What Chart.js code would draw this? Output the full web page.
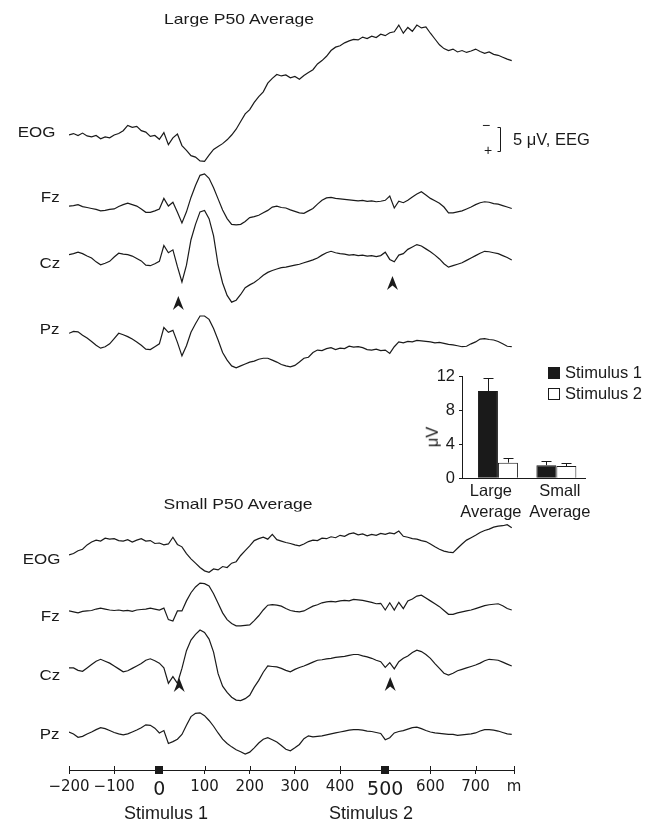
<!DOCTYPE html>
<html><head><meta charset="utf-8">
<script src="https://cdn.jsdelivr.net/npm/chart.js@4/dist/chart.umd.min.js"></script>
<style>
html,body{margin:0;padding:0;background:#fff;}
#wrap{position:relative;width:654px;height:821px;overflow:hidden;font-family:"Liberation Sans",Arial,Helvetica,sans-serif;color:#1a1a1a;}
canvas{position:absolute;}
.t{position:absolute;white-space:nowrap;font-size:16px;line-height:1;}
.c{transform:translate(-50%,-50%);}
.hd{font-size:15px;transform:translate(-50%,-50%) scaleX(1.17);}
.rl{font-size:15px;transform:translateY(-50%) scaleX(1.13);transform-origin:right center;text-align:right;}
.l{transform:translateY(-50%);}
.sq{position:absolute;width:10px;height:10px;border:1px solid #1a1a1a;}
</style></head><body>
<div id="wrap">
<canvas id="main" width="654" height="821" style="left:0;top:0"></canvas>
<canvas id="inset" width="254" height="200" style="left:400px;top:330px"></canvas>

<div class="t hd" style="left:239px;top:18px">Large P50 Average</div>
<div class="t hd" style="left:238px;top:503px">Small P50 Average</div>

<div class="t rl" style="right:599px;top:131px">EOG</div>
<div class="t rl" style="right:594px;top:196px">Fz</div>
<div class="t rl" style="right:594px;top:262px">Cz</div>
<div class="t rl" style="right:594px;top:328px">Pz</div>
<div class="t rl" style="right:594px;top:558px">EOG</div>
<div class="t rl" style="right:594px;top:615px">Fz</div>
<div class="t rl" style="right:594px;top:674px">Cz</div>
<div class="t rl" style="right:594px;top:733px">Pz</div>

<div class="t c" style="left:486px;top:125px;font-size:14px">−</div>
<div class="t c" style="left:488px;top:150px;font-size:14px">+</div>
<div class="t l" style="left:513px;top:139px;font-size:16.5px">5 μV, EEG</div>

<div class="t c" style="left:166px;top:813px;font-size:18px">Stimulus 1</div>
<div class="t c" style="left:371px;top:813px;font-size:18px">Stimulus 2</div>

<div class="sq" style="left:548px;top:367px;background:#1a1a1a"></div>
<div class="t l" style="left:565px;top:372px;font-size:16.5px">Stimulus 1</div>
<div class="sq" style="left:548px;top:388px;background:#fff"></div>
<div class="t l" style="left:565px;top:393px;font-size:16.5px">Stimulus 2</div>
<div class="t c" style="left:432px;top:437px;font-size:16.5px;transform:translate(-50%,-50%) rotate(-90deg)">μV</div>
</div>

<script>
// ---------- DATA ----------
const times = [-200,-190,-180,-170,-160,-150,-140,-130,-120,-110,
 -100,-90,-80,-70,-60,-50,-40,-30,-20,-10,
 0,10,20,30,40,50,60,70,80,90,
 100,110,120,130,140,150,160,170,180,190,
 200,210,220,230,240,250,260,270,280,290,
 300,310,320,330,340,350,360,370,380,390,
 400,410,420,430,440,450,460,470,480,490,
 500,510,520,530,540,550,560,570,580,590,
 600,610,620,630,640,650,660,670,680,690,
 700,710,720,730,740,750,760,770,780];

// Large P50 average (µV, negative up)
const largeEOG = [0.0,-0.3,0.1,-0.4,0.2,0.4,0.1,0.8,0.4,0.6,
 0.0,-0.3,-0.9,-2.0,-1.6,-1.8,-0.9,-0.6,0.3,0.1,
 0.9,-0.5,2.0,0.6,-0.2,2.2,3.2,4.3,4.6,5.4,
 5.5,4.2,3.0,2.4,1.8,1.0,0.0,-1.2,-2.8,-4.4,
 -5.3,-6.8,-8.0,-9.0,-10.8,-11.8,-12.6,-12.3,-12.5,-11.9,
 -12.2,-11.6,-12.4,-13.0,-13.6,-14.8,-15.5,-16.4,-17.6,-18.3,
 -18.6,-19.2,-19.6,-19.9,-19.8,-20.4,-20.1,-20.6,-20.3,-21.0,
 -20.7,-21.3,-21.5,-22.9,-21.2,-22.4,-21.6,-22.9,-22.3,-22.5,
 -21.2,-20.0,-18.8,-18.0,-17.6,-17.9,-17.3,-17.6,-17.2,-17.5,
 -17.9,-17.4,-17.0,-17.3,-16.8,-16.6,-16.2,-15.8,-15.5];
const largeFz = [-0.4,-0.5,-0.7,-0.3,-0.1,0.1,0.3,0.6,0.5,0.3,
 0.2,-0.3,-0.7,-1.0,-0.7,-0.4,0.2,0.9,0.9,0.6,
 0.2,-2.0,-0.4,-1.2,0.9,3.1,0.8,-2.2,-4.7,-6.8,
 -7.1,-6.2,-4.2,-1.9,0.4,2.2,3.4,3.5,3.4,2.8,
 2.0,1.8,1.5,1.0,0.5,-0.2,-0.4,-0.1,0.0,0.4,
 0.7,1.0,1.1,0.6,0.1,-0.8,-1.6,-2.1,-2.2,-2.0,
 -1.9,-1.8,-1.7,-1.6,-1.5,-1.6,-1.4,-1.5,-1.3,-1.4,
 -1.6,-2.5,0.0,-1.4,-1.1,-1.6,-2.3,-2.9,-3.4,-2.7,
 -2.0,-1.5,-1.0,-0.2,1.0,1.0,0.8,0.6,0.2,-0.2,
 -0.7,-1.1,-1.3,-1.2,-0.9,-0.8,-0.5,-0.2,0.1];
const largeCz = [-0.7,-0.9,-1.2,-0.9,-0.4,0.0,0.8,1.4,1.1,0.7,
 -0.2,-1.0,-0.8,-0.7,-0.4,0.1,0.6,1.5,1.6,1.2,
 0.7,-2.6,-1.1,-1.7,1.8,5.0,1.5,-3.8,-7.0,-9.6,
 -9.9,-8.2,-4.6,1.4,5.2,7.8,9.2,8.8,7.6,6.2,
 5.6,5.1,4.4,3.6,3.0,2.6,2.3,2.0,1.9,1.7,
 1.5,1.3,1.0,0.7,0.4,0.0,-0.6,-1.1,-1.4,-1.1,
 -0.9,-0.8,-0.6,-0.7,-0.5,-0.6,-0.4,-0.5,-0.3,-0.5,
 -1.2,0.3,0.8,-0.6,-0.9,-1.8,-2.3,-2.8,-2.5,-1.9,
 -1.3,-0.6,0.2,1.2,1.9,1.6,1.3,1.0,0.5,0.0,
 -0.5,-1.0,-1.4,-1.3,-1.1,-0.9,-0.5,-0.1,0.4];
const largePz = [-1.4,-1.8,-1.7,-1.0,-0.4,0.3,1.1,1.7,1.4,0.8,
 -0.3,-1.4,-1.1,-0.7,-0.2,0.4,1.1,1.9,2.0,1.4,
 0.8,-2.6,-1.6,-2.0,0.5,3.3,1.2,-1.6,-3.4,-5.0,
 -5.0,-4.3,-2.4,0.0,2.6,4.2,5.4,5.8,5.4,5.0,
 4.6,4.4,4.0,3.8,3.8,4.2,4.6,5.1,5.4,5.6,
 5.3,4.6,3.8,3.6,2.6,2.1,2.2,1.8,1.6,2.0,
 1.7,1.8,1.3,1.5,1.4,1.6,2.0,2.1,1.9,2.2,
 2.1,2.8,1.4,0.4,0.6,0.3,0.4,0.1,0.2,0.3,
 0.4,0.6,0.5,0.7,0.9,1.0,1.2,1.4,1.3,0.8,
 0.4,-0.2,-0.3,-0.1,0.0,0.3,0.8,1.3,1.4];

// Small P50 average (µV, negative up)
const smallEOG = [2.5,2.2,1.6,1.3,0.4,-0.2,-0.6,-0.4,-1.0,-0.8,
 -0.9,-0.5,-0.4,-0.7,-0.2,-0.6,-0.9,-0.4,-0.5,0.1,
 0.0,0.4,0.2,-1.2,0.3,0.8,2.2,3.3,4.2,5.1,
 5.8,6.1,5.4,5.6,4.9,5.1,4.2,3.9,2.6,1.6,
 0.6,-0.5,-0.9,-1.2,-0.8,-1.8,-0.7,-0.4,-0.1,0.1,
 0.4,0.6,0.2,-0.3,-0.6,-0.5,-1.0,-0.9,-1.3,-1.1,
 -1.6,-1.4,-1.9,-2.1,-1.7,-1.9,-1.5,-1.8,-1.6,-2.0,
 -1.8,-2.1,-1.9,-2.5,-1.4,-1.2,-0.9,-0.8,-0.5,-0.3,
 0.2,0.8,1.3,1.7,1.9,2.0,1.1,0.2,-0.6,-1.1,
 -1.6,-2.2,-2.6,-2.9,-3.3,-3.5,-3.6,-3.8,-3.2];
const smallFz = [0.2,0.4,0.6,0.3,0.2,0.1,-0.2,-0.4,-0.2,0.0,
 0.1,0.0,0.2,0.1,0.3,0.0,-0.1,-0.2,-0.4,-0.2,
 0.0,-0.4,2.0,2.3,0.2,0.2,-1.9,-3.6,-4.8,-5.6,
 -5.5,-5.0,-3.4,-1.4,0.6,2.0,2.8,3.3,3.3,3.2,
 3.1,2.2,1.2,0.0,-1.0,-1.1,-1.0,-0.8,-0.3,0.1,
 0.3,0.4,0.2,-0.3,-0.8,-1.1,-1.5,-1.7,-1.8,-1.7,
 -1.9,-2.0,-1.9,-2.2,-2.1,-2.0,-1.8,-1.6,-1.3,-1.4,
 0.0,-1.5,0.0,-1.6,-0.3,-1.9,-2.3,-2.9,-3.1,-2.5,
 -1.9,-1.3,-0.7,0.1,0.9,0.9,0.6,0.4,0.2,0.0,
 -0.3,-0.6,-0.9,-1.1,-1.2,-1.3,-0.9,-0.3,0.0];
const smallCz = [0.4,0.4,0.9,1.1,0.4,-0.3,-1.0,-1.4,-1.0,-0.6,
 0.0,0.6,1.2,1.0,0.5,0.0,-0.5,-1.2,-1.5,-1.1,
 -0.6,0.4,3.6,2.2,3.6,0.5,-3.2,-5.4,-6.6,-7.5,
 -7.0,-5.6,-2.9,1.6,4.2,5.5,6.5,7.1,7.2,6.8,
 6.1,4.4,3.0,1.3,0.0,0.1,0.2,0.5,0.9,1.2,
 0.7,0.3,0.0,-0.4,-0.8,-1.2,-1.3,-1.5,-1.6,-1.8,
 -1.9,-2.0,-2.2,-2.4,-2.4,-2.1,-1.9,-1.6,-1.2,-0.9,
 0.3,-0.7,0.6,-0.9,-1.6,-2.1,-2.8,-3.3,-3.0,-2.4,
 -1.6,-0.5,0.5,1.5,1.9,1.5,1.0,0.7,0.4,0.1,
 -0.2,-0.6,-1.1,-1.4,-1.3,-1.2,-0.8,-0.4,0.0];
const smallPz = [0.0,0.4,1.1,0.9,0.4,0.0,-0.5,-0.9,-0.7,-0.3,
 0.1,0.4,0.6,0.4,0.0,-0.4,-0.9,-1.5,-1.4,-0.8,
 0.2,-0.3,2.4,2.0,1.5,0.5,-1.4,-3.2,-3.9,-4.0,
 -3.4,-2.4,-1.2,0.2,1.5,2.4,3.1,3.7,4.1,4.6,
 4.2,3.3,2.3,1.5,1.2,1.6,2.1,2.8,3.6,3.9,
 3.3,2.6,1.4,0.8,1.0,0.9,0.8,0.6,0.4,0.2,
 0.0,-0.2,-0.4,-0.5,-0.5,-0.4,-0.2,-0.1,0.1,0.3,
 1.6,1.2,0.2,-0.1,-0.3,-0.6,-0.9,-1.0,-0.7,-0.3,
 0.0,0.2,0.3,0.4,0.5,0.5,0.7,0.6,0.5,0.4,
 0.2,-0.2,-0.5,-0.5,-0.4,-0.2,0.1,0.4,0.5];

// x axis
const tickValues = [-200,-100,0,100,200,300,400,500,600,700,785];
const tickLabels = ['−200','−100','0','100','200','300','400','500','600','700','m'];
const stimTimes = [0, 500];
const arrowTimes = [42, 516, 44, 511];

// inset bar chart
const groupLabels = [['Large','Average'],['Small','Average']];
const groupPos = [0, 1];
const stim1Mean = [10.3, 1.55];
const stim1Err  = [1.6, 0.45];
const stim2Mean = [1.85, 1.45];
const stim2Err  = [0.5, 0.4];

// ---------- LAYOUT / STYLE ----------
const INK = '#1a1a1a';
const PX_PER_UV = 4.8;           // 5 µV = 24 px
const AXIS_Y = 770;              // pixel row of the time axis
const rows = [                   // baseline pixel row of each trace
  {data: largeEOG, base: 135},
  {data: largeFz,  base: 208},
  {data: largeCz,  base: 258},
  {data: largePz,  base: 340},
  {data: smallEOG, base: 543},
  {data: smallFz,  base: 610},
  {data: smallCz,  base: 666},
  {data: smallPz,  base: 732}
];
const arrowTops = [296, 276, 678, 677];
const groupLabelPos = [-0.12, 1.06];   // label anchors on the inset x scale

const datasets = rows.map(r => ({
  data: r.data.map((v, i) => ({x: times[i], y: r.base / PX_PER_UV + v})),
  borderColor: INK, borderWidth: 1.2, pointRadius: 0, tension: 0, fill: false
}));

const mainDecor = {
  id: 'mainDecor',
  afterDraw(chart) {
    const ctx = chart.ctx, xs = chart.scales.x, yb = chart.chartArea.bottom;
    ctx.save();
    ctx.strokeStyle = INK; ctx.fillStyle = INK; ctx.lineWidth = 1;
    tickValues.forEach(v => {
      if (stimTimes.includes(v)) return;
      const x = Math.round(xs.getPixelForValue(v)) + 0.5;
      ctx.beginPath(); ctx.moveTo(x, yb - 4); ctx.lineTo(x, yb); ctx.stroke();
    });
    stimTimes.forEach(v => {
      const x = xs.getPixelForValue(v);
      ctx.fillRect(Math.round(x) - 4, yb - 4, 8, 8);
    });
    arrowTimes.forEach((t, i) => {
      const x = xs.getPixelForValue(t), y = arrowTops[i];
      ctx.beginPath(); ctx.moveTo(x, y); ctx.lineTo(x + 5.5, y + 14);
      ctx.lineTo(x, y + 9.5); ctx.lineTo(x - 5.5, y + 14); ctx.closePath(); ctx.fill();
    });
    // 5 µV scale bracket
    ctx.beginPath();
    ctx.moveTo(497.5, 127.5); ctx.lineTo(500.5, 127.5); ctx.lineTo(500.5, 151.5); ctx.lineTo(497.5, 151.5);
    ctx.stroke();
    ctx.restore();
  }
};

new Chart(document.getElementById('main'), {
  type: 'line',
  data: {datasets},
  options: {
    responsive: false, animation: false, events: [],
    layout: {padding: {left: 69, right: 140, top: 0, bottom: 0}},
    plugins: {legend: {display: false}, tooltip: {enabled: false}},
    scales: {
      x: {
        type: 'linear', min: -200, max: 785,
        afterBuildTicks(s) { s.ticks = tickValues.map(v => ({value: v})); },
        afterFit(s) { s.height = 821 - AXIS_Y; },
        ticks: {
          autoSkip: false, maxRotation: 0, color: INK, padding: 4.5,
          callback: (v, i) => tickLabels[i],
          font: ctx => ({family: '"DejaVu Sans", sans-serif',
            size: (ctx.tick && stimTimes.includes(ctx.tick.value)) ? 19 : 15})
        },
        grid: {display: true, drawOnChartArea: false, drawTicks: true, tickLength: 4, color: INK},
        border: {display: true, color: INK, width: 1}
      },
      y: {display: false, reverse: true, min: 0, max: AXIS_Y / PX_PER_UV}
    }
  },
  plugins: [mainDecor]
});

const errorBars = {
  id: 'errorBars',
  afterDatasetsDraw(chart) {
    const ctx = chart.ctx, ys = chart.scales.y;
    const errs = [stim1Err, stim2Err], means = [stim1Mean, stim2Mean];
    ctx.save(); ctx.strokeStyle = INK; ctx.lineWidth = 1;
    [0, 1].forEach(d => {
      chart.getDatasetMeta(d).data.forEach((bar, i) => {
        const x = Math.round(bar.x) + 0.5;
        const y0 = ys.getPixelForValue(means[d][i]);
        const y1 = Math.round(ys.getPixelForValue(means[d][i] + errs[d][i])) + 0.5;
        ctx.beginPath(); ctx.moveTo(x, y0); ctx.lineTo(x, y1);
        ctx.moveTo(x - 5, y1); ctx.lineTo(x + 5, y1); ctx.stroke();
      });
    });
    ctx.restore();
  }
};

const insetFont = {family: '"Liberation Sans", Arial, sans-serif', size: 16.5};
new Chart(document.getElementById('inset'), {
  type: 'bar',
  data: {
    datasets: [
      {label: 'Stimulus 1', data: stim1Mean.map((v, i) => ({x: groupPos[i], y: v})),
       backgroundColor: INK, borderColor: INK, borderWidth: 1},
      {label: 'Stimulus 2', data: stim2Mean.map((v, i) => ({x: groupPos[i], y: v})),
       backgroundColor: '#ffffff', borderColor: INK, borderWidth: 1}
    ]
  },
  options: {
    responsive: false, animation: false, events: [],
    layout: {padding: {left: 0, right: 69, top: 46.7, bottom: 0}},
    plugins: {legend: {display: false}, tooltip: {enabled: false}},
    datasets: {bar: {categoryPercentage: 0.684, barPercentage: 1}},
    scales: {
      x: {
        type: 'linear', min: -0.615, max: 1.49, offset: false,
        afterBuildTicks(s) { s.ticks = groupLabelPos.map(v => ({value: v})); },
        grid: {display: false, offset: false}, border: {display: true, color: INK},
        ticks: {color: INK, padding: -5, maxRotation: 0, autoSkip: false,
          callback: (v, i) => groupLabels[i],
          font: Object.assign({lineHeight: 1.25}, insetFont)},
        afterFit(s) { s.height = 51.7; }
      },
      y: {
        min: 0, max: 12,
        ticks: {stepSize: 2, color: INK, padding: 4,
          callback: v => (v % 4 === 0 ? v : ''), font: insetFont},
        grid: {drawOnChartArea: false, drawTicks: true, tickLength: 3, color: INK},
        border: {display: true, color: INK},
        afterFit(s) { s.width = 62; }
      }
    }
  },
  plugins: [errorBars]
});
</script>
</body></html>
